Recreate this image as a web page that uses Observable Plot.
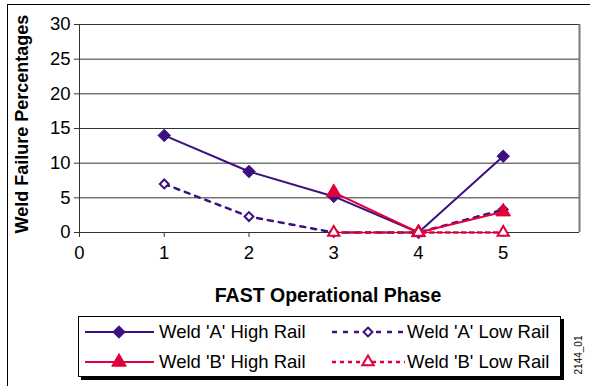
<!DOCTYPE html>
<html>
<head>
<meta charset="utf-8">
<script src="https://cdn.jsdelivr.net/npm/d3@7"></script>
<script src="https://cdn.jsdelivr.net/npm/@observablehq/plot@0.6"></script>
<style>
  html, body { margin: 0; padding: 0; background: #fff; }
  #wrap { position: relative; width: 590px; height: 386px; overflow: hidden; font-family: "Liberation Sans", Arial, sans-serif; }
  #frame { position: absolute; left: 7px; top: 4px; right: -5px; bottom: -5px; border-top: 1.5px solid #000; border-left: 1.5px solid #000; }
  #ytitle { position: absolute; left: 22px; top: 124px; transform: translate(-50%, -50%) rotate(-90deg); white-space: nowrap; font-weight: bold; font-size: 18px; }
  #xtitle { position: absolute; left: 328px; top: 295px; transform: translate(-50%, -50%); white-space: nowrap; font-weight: bold; font-size: 19.5px; }
  #code { position: absolute; left: 578px; top: 355px; transform: translate(-50%, -50%) rotate(-90deg); white-space: nowrap; font-size: 10px; }
  #legend { position: absolute; left: 78px; top: 316px; width: 481px; height: 59px; border: 1.5px solid #000; box-shadow: 3px 3px 0 #000; background: #fff; }
  #chart { position: absolute; left: 0; top: 0; }
</style>
</head>
<body>
<div id="wrap">
  <div id="frame"></div>
  <div id="chart"></div>
  <div id="ytitle">Weld Failure Percentages</div>
  <div id="xtitle">FAST Operational Phase</div>
  <div id="legend"></div>
  <div id="code">2144_01</div>
</div>
<script>
const phases = [1, 2, 3, 4, 5];
const weldAHigh = [14, 8.8, 5.2, 0, 11];
const weldALow = [7, 2.3, 0, 0, 3.3];
const weldBHigh = [null, null, 5.8, 0, 3];
const weldBLow = [null, null, 0, 0, 0];
const seriesNames = ["Weld 'A' High Rail", "Weld 'A' Low Rail", "Weld 'B' High Rail", "Weld 'B' Low Rail"];
const xTicks = [0, 1, 2, 3, 4, 5];
const yTicks = [0, 5, 10, 15, 20, 25, 30];

const purple = "#3c1080";
const red = "#e2003c";

const styles = [
  {values: weldAHigh, color: purple, dash: null, symbol: "diamond2", filled: true, r: 5.6, sw: 2},
  {values: weldALow, color: purple, dash: "5,6", symbol: "diamond2", filled: false, r: 4, sw: 2.5},
  {values: weldBHigh, color: red, dash: null, symbol: "triangle", filled: true, r: 5.4, sw: 2},
  {values: weldBLow, color: red, dash: "4,4", symbol: "triangle", filled: false, r: 4.2, sw: 2.5}
];

const marks = [
  Plot.gridY(yTicks, {stroke: "#333", strokeOpacity: 1, strokeWidth: 1}),
  Plot.ruleX([5.9], {stroke: "#7a7a7a", strokeWidth: 2}),
  Plot.ruleX([0], {stroke: "#333", strokeWidth: 1}),
  Plot.axisY({ticks: yTicks, tickSize: 5, tickPadding: 4, label: null, stroke: "#333", fill: "#000", fontSize: 18.5, tickFormat: d3.format("d")}),
  Plot.axisX({ticks: xTicks, tickSize: 5, tickPadding: 8, label: null, stroke: "#333", fill: "#000", fontSize: 18.5, tickFormat: d3.format("d")})
];

styles.forEach((s, i) => {
  const rows = phases.map((p, j) => ({phase: p, value: s.values[j], series: seriesNames[i]}))
    .filter(d => d.value != null);
  marks.push(Plot.line(rows, {x: "phase", y: "value", stroke: s.color, strokeWidth: s.sw, strokeDasharray: s.dash || undefined}));
  marks.push(Plot.dot(rows, {x: "phase", y: "value", symbol: () => s.symbol, r: s.r,
    fill: s.filled ? s.color : "#fff", stroke: s.color, strokeWidth: s.filled ? 1 : 2}));
});

const chart = Plot.plot({
  width: 590,
  height: 386,
  marginLeft: 79,
  marginRight: 11,
  marginTop: 24,
  marginBottom: 154,
  x: {domain: [0, 5.9]},
  y: {domain: [0, 30]},
  style: {fontFamily: "'Liberation Sans', Arial, sans-serif", fontSize: "18.5px", background: "transparent", color: "#000"},
  marks
});
document.getElementById("chart").appendChild(chart);

// Legend
const leg = d3.select("#legend").append("svg").attr("width", 481).attr("height", 59)
  .style("font-family", "'Liberation Sans', Arial, sans-serif");
const cols = [{x0: 6, x1: 75, mx: 40, tx: 80}, {x0: 253, x1: 326, mx: 289, tx: 328}];
const rowsY = [15, 45];
const order = [[0, 0, 0], [1, 0, 1], [2, 1, 0], [3, 1, 1]];
order.forEach(([i, r, c]) => {
  const s = styles[i];
  const col = cols[c];
  const y = rowsY[r];
  leg.append("line").attr("x1", col.x0).attr("x2", col.x1).attr("y1", y).attr("y2", y)
    .attr("stroke", s.color).attr("stroke-width", s.sw)
    .attr("stroke-dasharray", s.dash || null);
  const sym = s.symbol === "triangle" ? d3.symbolTriangle : d3.symbolDiamond2;
  leg.append("path").attr("d", d3.symbol(sym, Math.PI * s.r * s.r)())
    .attr("transform", `translate(${col.mx},${y})`)
    .attr("fill", s.filled ? s.color : "#fff").attr("stroke", s.color)
    .attr("stroke-width", s.filled ? 1 : 2);
  leg.append("text").attr("x", col.tx).attr("y", y).attr("dy", "0.35em")
    .attr("font-size", 18.5).text(seriesNames[i]);
});
</script>
</body>
</html>
